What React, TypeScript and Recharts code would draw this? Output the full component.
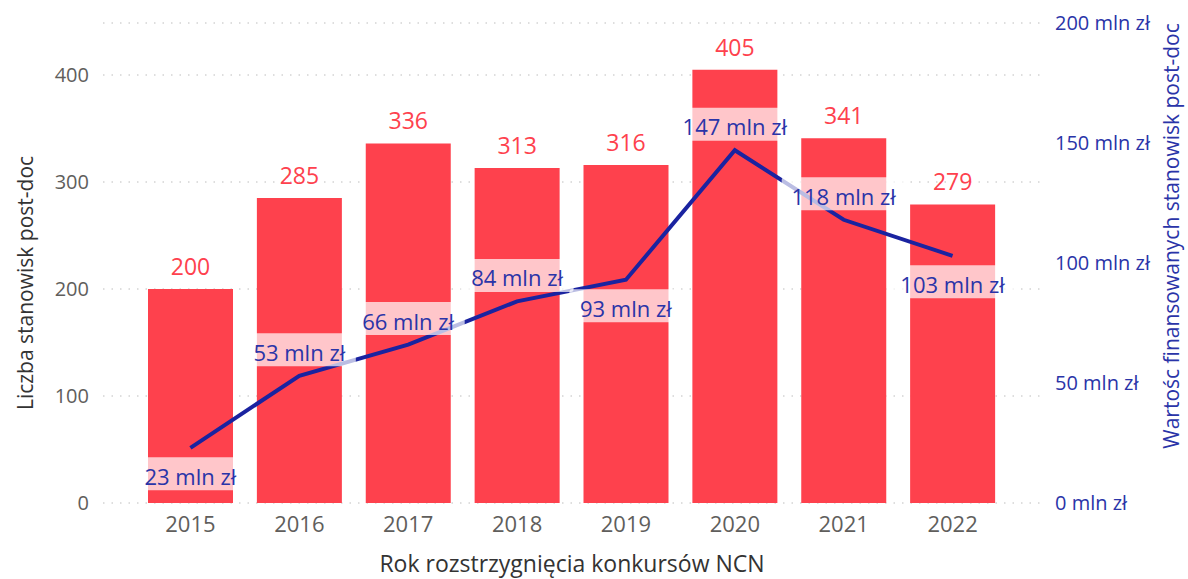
import {
  ComposedChart,
  Bar,
  Line,
  XAxis,
  YAxis,
  CartesianGrid,
  LabelList,
  Label,
} from "recharts";

const lata = ["2015", "2016", "2017", "2018", "2019", "2020", "2021", "2022"];
const liczbaStanowisk = [200, 285, 336, 313, 316, 405, 341, 279];
const wartoscMln = [23, 53, 66, 84, 93, 147, 118, 103];
const polozenieEtykiet = ["dol", "gora", "gora", "gora", "dol", "gora", "gora", "dol"];

const ticksLewa = [0, 100, 200, 300, 400];
const ticksPrawa = [0, 50, 100, 150, 200];

const CZERWONY = "#FE414D";
const GRANAT = "#1A23A0";
const NIEBIESKI_TXT = "#2A34A8";
const SZARY = "#605E5C";
const FONT = '"Segoe UI", "Open Sans", sans-serif';

const dane = lata.map((rok, i) => ({
  rok,
  liczba: liczbaStanowisk[i],
  wartosc: wartoscMln[i],
}));

const formatMln = (v: number) => `${v} mln zł`;

function EtykietaLinii(props: any) {
  const { x, y, value, index } = props;
  const tekst = formatMln(value);
  const szer = tekst.length * 11 + 14;
  const wys = 33;
  const cy = polozenieEtykiet[index] === "dol" ? y + 28 : y - 24;
  return (
    <g>
      <rect
        x={x - szer / 2}
        y={cy - wys / 2 - 2}
        width={szer}
        height={wys}
        rx={3}
        fill="#fff"
        fillOpacity={0.7}
      />
      <text
        x={x}
        y={cy}
        textAnchor="middle"
        dominantBaseline="central"
        fill={NIEBIESKI_TXT}
        fontSize={22}
        fontFamily={FONT}
      >
        {tekst}
      </text>
    </g>
  );
}

export default function App() {
  return (
    <div style={{ position: "absolute", left: 0, top: 0, background: "#fff" }}>
      <ComposedChart
        width={1188}
        height={579}
        data={dane}
        margin={{ top: 23, right: 0, bottom: 0, left: 0 }}
        style={{ fontFamily: FONT }}
      >
        <CartesianGrid
          yAxisId="lewa"
          vertical={false}
          stroke="#bdbdbd"
          strokeDasharray="1.5 7"
        />
        <XAxis
          dataKey="rok"
          height={76}
          padding={{ left: 33, right: 33 }}
          axisLine={false}
          tickLine={false}
          tick={{ fill: SZARY, fontSize: 22 }}
          tickMargin={7}
        >
          <Label
            content={() => (
              <text
                x={572}
                y={563}
                textAnchor="middle"
                dominantBaseline="central"
                fill="#333"
                fontSize={23}
                fontFamily={FONT}
              >
                Rok rozstrzygnięcia konkursów NCN
              </text>
            )}
          />
        </XAxis>
        <YAxis
          yAxisId="lewa"
          width={103}
          domain={[0, 448.6]}
          ticks={ticksLewa}
          allowDataOverflow
          axisLine={false}
          tickLine={false}
          tick={{ fill: SZARY, fontSize: 20 }}
          tickMargin={8}
        >
          <Label
            content={() => (
              <text
                x={25}
                y={283}
                transform="rotate(-90 25 283)"
                textAnchor="middle"
                dominantBaseline="central"
                fill="#333"
                fontSize={21}
                fontFamily={FONT}
              >
                Liczba stanowisk post-doc
              </text>
            )}
          />
        </YAxis>
        <YAxis
          yAxisId="prawa"
          orientation="right"
          width={148}
          domain={[0, 200]}
          ticks={ticksPrawa}
          axisLine={false}
          tickLine={false}
          tick={{ fill: NIEBIESKI_TXT, fontSize: 20 }}
          tickMargin={9}
          tickFormatter={formatMln}
        >
          <Label
            content={() => (
              <text
                x={1171}
                y={236}
                transform="rotate(-90 1171 236)"
                textAnchor="middle"
                dominantBaseline="central"
                fill={NIEBIESKI_TXT}
                fontSize={21}
                fontFamily={FONT}
              >
                Wartośc finansowanych stanowisk post-doc
              </text>
            )}
          />
        </YAxis>
        <Bar
          yAxisId="lewa"
          dataKey="liczba"
          fill={CZERWONY}
          barSize={85}
          isAnimationActive={false}
        >
          <LabelList
            dataKey="liczba"
            position="top"
            offset={14}
            fill={CZERWONY}
            fontSize={23}
            fontFamily={FONT}
          />
        </Bar>
        <Line
          yAxisId="prawa"
          dataKey="wartosc"
          stroke={GRANAT}
          strokeWidth={4}
          dot={false}
          activeDot={false}
          isAnimationActive={false}
        >
          <LabelList dataKey="wartosc" content={EtykietaLinii} />
        </Line>
      </ComposedChart>
    </div>
  );
}
